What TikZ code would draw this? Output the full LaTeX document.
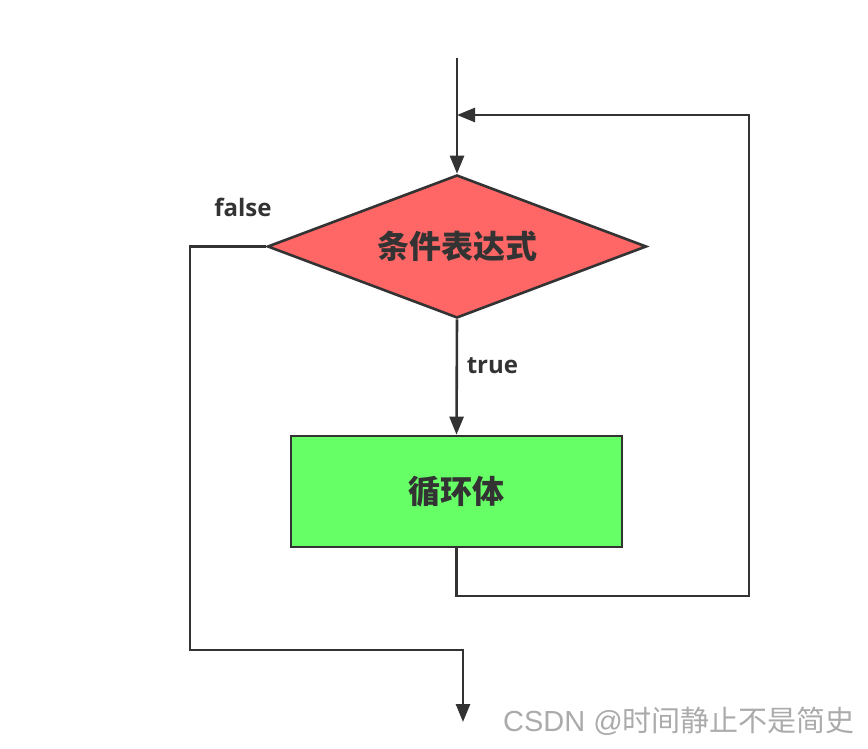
\documentclass[tikz,border=0pt]{standalone}
\usepackage{fontspec}
\setmainfont{Open Sans}
\newfontfamily\cjk{Noto Sans CJK SC}
\newfontfamily\wmfont{Liberation Sans}
\usepackage{xcolor}
\usetikzlibrary{shapes.geometric, arrows.meta, positioning}
\definecolor{condred}{HTML}{FF6666}
\definecolor{bodygreen}{HTML}{66FF66}
\definecolor{linegray}{HTML}{333333}
\definecolor{markgray}{HTML}{ABABAB}

\begin{document}
\begin{tikzpicture}[
  x=0.5pt, y=-0.5pt,
  decision/.style={diamond, aspect=2.65, draw=linegray, line width=1.3pt, fill=condred,
                   minimum width=189.5pt, minimum height=71.5pt, inner sep=0pt,
                   font=\cjk\bfseries\fontsize{16pt}{18pt}\selectfont, text=linegray},
  process/.style={rectangle, draw=linegray, line width=1.3pt, fill=bodygreen,
                  minimum width=165.5pt, minimum height=55.5pt,
                  font=\cjk\bfseries\fontsize{16pt}{18pt}\selectfont, text=linegray},
  rel/.style={-{Triangle[length=9pt, width=7pt]}, line width=1.3pt, draw=linegray},
  label_style/.style={font=\bfseries\fontsize{12pt}{14pt}\selectfont, text=linegray}
]
\useasboundingbox (0,0) rectangle (868,749);

% Main nodes
\node[decision] (cond) at (457,246.5) {条件表达式};
\node[process] (body) at (456.5,491.5) {循环体};

% Loop corners
\coordinate (start) at (457,58);
\coordinate (back1) at (456.5,596);
\coordinate (back2) at (749,596);
\coordinate (back3) at (749,115);
\coordinate (join)  at (457,115);

% Exit corners
\coordinate (exit1) at (190,650);
\coordinate (exit2) at (463,650);
\coordinate (stop)  at (463,722);

% Connectors
\draw[rel] (start) -- (cond.north);
\draw[rel] (cond.south) -- node[label_style, right, pos=0.4, xshift=1pt]{true} (body.north);
\draw[rel] (body.south) -- (back1) -- (back2) -- (back3) -- (join);
\draw[rel] (cond.west) -| (exit1) -- (exit2) -- (stop);

% Labels
\node[label_style] (falselbl) at (243,207) {false};

% Watermark
\node[text=markgray, font=\fontsize{14.5pt}{16pt}\selectfont] (mark) at (679,721)
      {\wmfont CSDN @\cjk 时间静止不是简史};

\end{tikzpicture}
\end{document}
